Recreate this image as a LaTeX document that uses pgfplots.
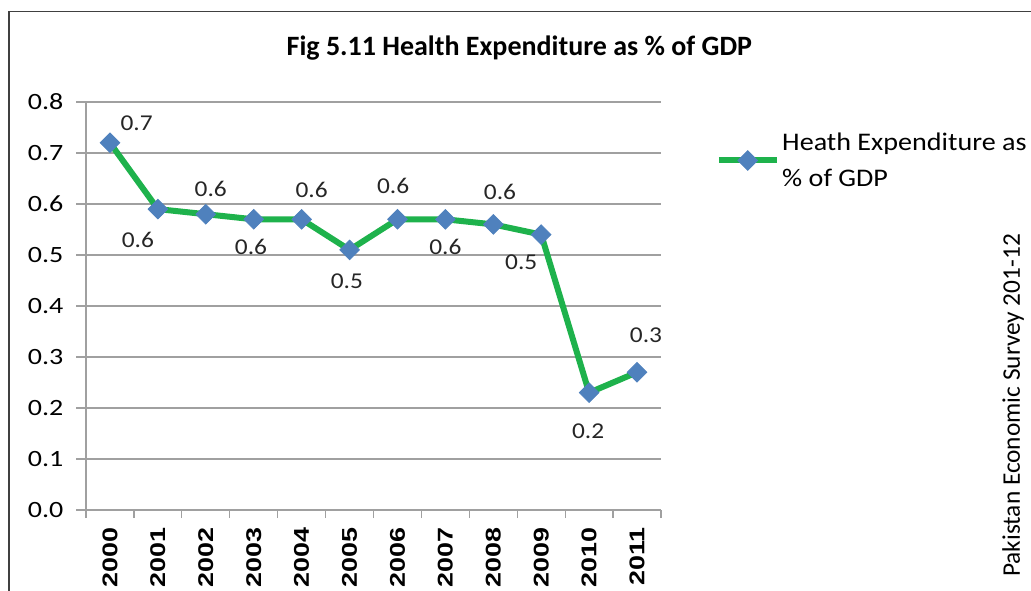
\documentclass[border=0pt]{standalone}
\usepackage{pgfplots}
\usepackage{pgfplotstable}
\pgfplotsset{compat=1.18}
\usepackage{fontspec}
\setmainfont{Carlito}
\newfontfamily\arialfont{Liberation Sans}
\definecolor{linegreen}{RGB}{30,178,76}
\definecolor{markblue}{RGB}{79,129,189}
\definecolor{gridgray}{RGB}{160,160,160}

\pgfplotstableread{
x y lab dx dy
2000 0.72 0.7 20 14.5
2001 0.59 0.6 -15 -23.25
2002 0.58 0.6 3.75 18.75
2003 0.57 0.6 -2 -20.8
2004 0.57 0.6 7.5 21.75
2005 0.51 0.5 -2 -23.8
2006 0.57 0.6 -3.25 25
2007 0.57 0.6 0 -21
2008 0.56 0.6 5 24.5
2009 0.54 0.5 -15 -20.8
2010 0.23 0.2 -0.75 -28.8
2011 0.27 0.3 6.75 27.5
}\data

\begin{document}
\begin{tikzpicture}
\useasboundingbox (-64.5pt,-60pt) rectangle (708.75pt,382.5pt);
\clip (-64.5pt,-60pt) rectangle (708.75pt,382.5pt);
\draw[color=black!75, line width=1.1pt] (-57.75pt,-200pt) rectangle (1000pt,373.9pt);
\begin{axis}[
  at={(0,0)}, anchor=south west,
  scale only axis, width=431.25pt, height=306pt,
  xmin=1999.5, xmax=2011.5, ymin=0, ymax=0.8,
  xtick={2000,...,2011},
  minor xtick={1999.5,2000.5,...,2011.5},
  ytick={0,0.1,...,0.8},
  axis x line*=bottom, axis y line*=left,
  axis line style={gridgray, line width=0.9pt},
  ymajorgrids, grid style={gridgray, line width=0.9pt},
  tick align=outside, major tick length=7.5pt, minor tick length=6pt,
  major x tick style={draw=none},
  minor x tick style={gridgray, line width=0.9pt},
  y tick style={gridgray, line width=0.9pt},
  yticklabel={\scalebox{1.2}[1]{\pgfmathprintnumber[fixed, precision=1, fixed zerofill, assume math mode=true]{\tick}}},
  yticklabel style={font=\fontsize{17.5}{20}\selectfont, xshift=-6pt},
  xticklabel={\scalebox{1.26}[1]{\pgfmathprintnumber[fixed, precision=0, 1000 sep={}, assume math mode=true]{\tick}}},
  xticklabel style={font=\arialfont\bfseries\fontsize{16}{18}\selectfont, rotate=90, anchor=east, xshift=-2pt},
  clip=false,
  legend style={draw=none, fill=none, at={(1.095,0.932)}, anchor=north west,
    font=\fontsize{19}{27}\selectfont, cells={align=left}, inner sep=0pt},
  legend cell align=left,
  legend image code/.code={\draw[mark repeat=2, mark phase=2] plot coordinates {(0cm,0cm) (0.76cm,0cm) (1.52cm,0cm)};},
]
\addplot[color=linegreen, line width=4.5pt, mark=square*,
  mark options={rotate=45, fill=markblue, draw=markblue, line width=0.6pt, solid}, mark size=5.2pt]
  table[x=x, y=y] {\data};
\addlegendentry{\scalebox{1.11}[1]{Heath Expenditure as}\\\scalebox{1.11}[1]{\% of GDP}}
\addplot[draw=none, mark=none, forget plot, point meta=explicit symbolic,
  nodes near coords={\scalebox{1.12}[1]{\pgfplotspointmeta}},
  visualization depends on={\thisrow{dx}\as\dx},
  visualization depends on={\thisrow{dy}\as\dy},
  every node near coord/.append style={anchor=center, xshift=\dx pt, yshift=\dy pt,
    font=\fontsize{17}{20}\selectfont, text=black!85}]
  table[x=x, y=y, meta=lab] {\data};
\end{axis}
\node[font=\bfseries\fontsize{21}{24}\selectfont] at (325pt,346.5pt) {Fig 5.11 Health Expenditure as \% of GDP};
\node[rotate=90, font=\fontsize{19}{22}\selectfont] at (695.25pt,78.4pt) {Pakistan Economic Survey 201-12};
\end{tikzpicture}
\end{document}
